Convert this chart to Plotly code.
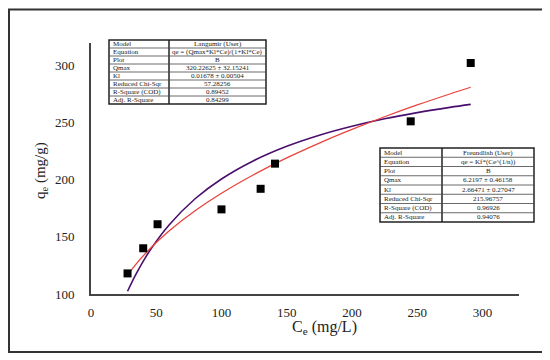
import plotly.graph_objects as go

# ---- data ----
ce_points = [28, 40, 51, 100, 130, 141, 245, 291]
qe_points = [118, 140, 161, 174, 192, 214, 251, 302]

fit_ce = [28, 35, 45, 60, 80, 100, 125, 150, 175, 200, 225, 250, 275, 291]
langmuir_qe = [102.4, 118.5, 137.8, 160.6, 183.5, 200.6, 216.8, 229.2, 238.9, 246.7, 253.2, 258.6, 263.2, 265.8]
freundlich_qe = [116.6, 126.8, 139.4, 155.3, 173.0, 188.1, 204.5, 219.0, 232.0, 243.9, 255.0, 265.3, 274.9, 280.8]

x_ticks = [0, 50, 100, 150, 200, 250, 300]
y_ticks = [100, 150, 200, 250, 300]

langmuir_rows = [
    ("Model", "Langumir (User)"),
    ("Equation", "qe = (Qmax*Kl*Ce)/(1+Kl*Ce)"),
    ("Plot", "B"),
    ("Qmax", "320.22625 ± 32.15241"),
    ("Kl", "0.01678 ± 0.00504"),
    ("Reduced Chi-Sqr", "57.28256"),
    ("R-Square (COD)", "0.89452"),
    ("Adj. R-Square", "0.84299"),
]
freundlich_rows = [
    ("Model", "Freundlish (User)"),
    ("Equation", "qe = Kf*(Ce^(1/n))"),
    ("Plot", "B"),
    ("Qmax", "6.2197 ± 0.46158"),
    ("Kl", "2.66471 ± 0.27047"),
    ("Reduced Chi-Sqr", "215.96757"),
    ("R-Square (COD)", "0.96926"),
    ("Adj. R-Square", "0.94076"),
]

# ---- layout geometry (page pixels); page body has an 8px margin ----
PAGE_W, PAGE_H = 550, 360
OFF = 8
L, R, T, B = 91, 519, 43, 294
FONT = "Liberation Serif"


def px(x):
    return (x - L) / (R - L)


def py(y):
    return (B - y) / (B - T)


fig = go.Figure()
fig.add_trace(go.Scatter(x=fit_ce, y=langmuir_qe, mode="lines", line=dict(color="#4a0f6e", width=1.6, shape="spline"),
                         showlegend=False, hoverinfo="skip"))
fig.add_trace(go.Scatter(x=fit_ce, y=freundlich_qe, mode="lines", line=dict(color="#e8433c", width=1.3, shape="spline"),
                         showlegend=False, hoverinfo="skip"))
fig.add_trace(go.Scatter(x=ce_points, y=qe_points, mode="markers",
                         marker=dict(symbol="square", size=8, color="black"), showlegend=False))

shapes = []
annotations = []

# outer frame
shapes.append(dict(type="rect", xref="paper", yref="paper", x0=px(9), x1=px(543), y0=py(352), y1=py(9.5),
                   line=dict(color="#333333", width=2), fillcolor="rgba(0,0,0,0)", layer="below"))


def add_table(rows, left, right, top, bottom, divider, fs):
    n = len(rows)
    rh = (bottom - top) / n
    shapes.append(dict(type="rect", xref="paper", yref="paper", x0=px(left), x1=px(right), y0=py(bottom), y1=py(top),
                       line=dict(color="#222222", width=1.5), fillcolor="white", layer="above"))
    shapes.append(dict(type="line", xref="paper", yref="paper", x0=px(divider), x1=px(divider), y0=py(bottom), y1=py(top),
                       line=dict(color="#222222", width=1.5), layer="above"))
    for i in range(1, n):
        yy = top + i * rh
        shapes.append(dict(type="line", xref="paper", yref="paper", x0=px(left), x1=px(right), y0=py(yy), y1=py(yy),
                           line=dict(color="#444444", width=0.8), layer="above"))
    for i, (a, b) in enumerate(rows):
        yc = top + (i + 0.5) * rh
        annotations.append(dict(xref="paper", yref="paper", x=px(left + 2), y=py(yc), text=a, showarrow=False,
                                xanchor="left", yanchor="middle", font=dict(family=FONT, size=fs, color="#222")))
        annotations.append(dict(xref="paper", yref="paper", x=px((divider + right) / 2), y=py(yc), text=b, showarrow=False,
                                xanchor="center", yanchor="middle", font=dict(family=FONT, size=fs, color="#222")))


add_table(langmuir_rows, 109, 266, 40, 104, 169, 7)
add_table(freundlich_rows, 380, 534, 148, 222, 442, 7)

# axis titles
annotations.append(dict(xref="paper", yref="paper", x=px(324), y=py(328), text="C<sub>e</sub> (mg/L)", showarrow=False,
                        xanchor="center", yanchor="middle", font=dict(family=FONT, size=16, color="#222")))
annotations.append(dict(xref="paper", yref="paper", x=px(41), y=py(171), text="q<sub>e</sub> (mg/g)", showarrow=False,
                        textangle=-90, xanchor="center", yanchor="middle", font=dict(family=FONT, size=15, color="#222")))

fig.update_layout(
    width=PAGE_W - OFF, height=PAGE_H - OFF,
    margin=dict(l=L - OFF, r=PAGE_W - R, t=T - OFF, b=PAGE_H - B),
    paper_bgcolor="white", plot_bgcolor="white",
    shapes=shapes, annotations=annotations,
    font=dict(family=FONT, size=13, color="#222"),
    xaxis=dict(range=[0, 328], tickvals=x_ticks, showgrid=False, zeroline=False, showline=True,
               linecolor="#444444", linewidth=2, ticks="", ticklabelstandoff=5,
               tickfont=dict(family=FONT, size=13, color="#222")),
    yaxis=dict(range=[100, 319.5], tickvals=y_ticks, showgrid=False, zeroline=False, showline=True,
               linecolor="#444444", linewidth=2, ticks="", ticklabelstandoff=12,
               tickfont=dict(family=FONT, size=13, color="#222")),
)

fig.write_html("out.html")
